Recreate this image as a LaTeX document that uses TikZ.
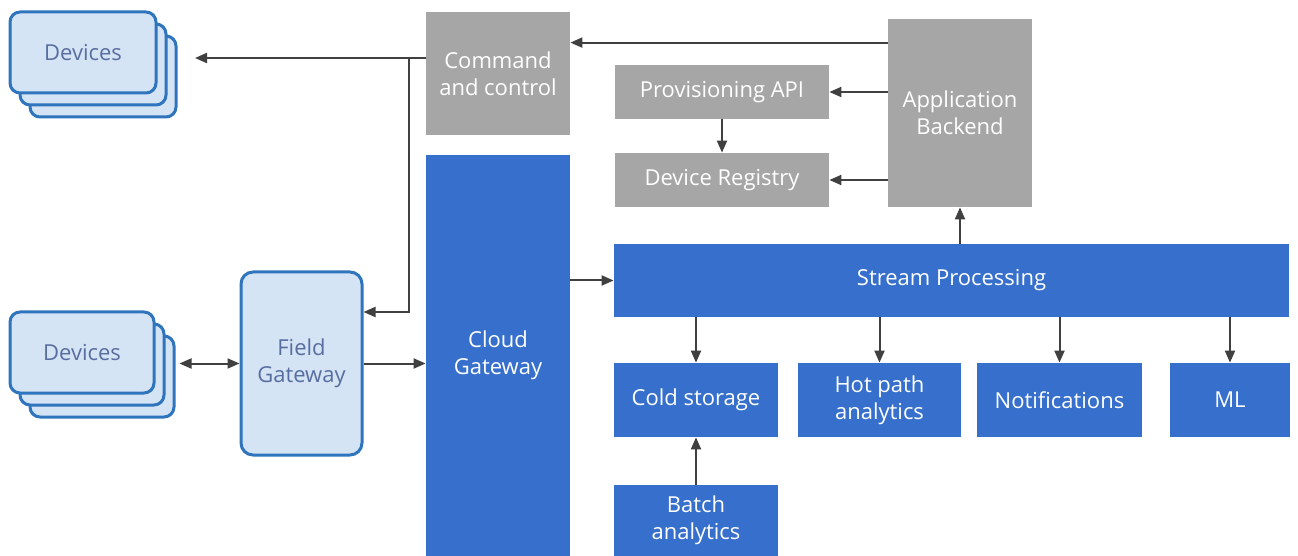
\documentclass[tikz,border=0pt]{standalone}
\usepackage{fontspec}
\setmainfont{Open Sans}
\usetikzlibrary{arrows.meta,shadows,calc}

\definecolor{azure}{RGB}{54,112,204}
\definecolor{boxgray}{RGB}{166,166,166}
\definecolor{devfill}{RGB}{212,228,244}
\definecolor{devline}{RGB}{46,117,190}
\definecolor{devtext}{RGB}{88,110,160}
\definecolor{arrowgray}{RGB}{64,64,64}

\tikzset{
	box/.style={rectangle, inner sep=0pt, align=center, text=white, font=\fontsize{11}{13.5}\selectfont},
	azurebox/.style={box, fill=azure},
	greybox/.style={box, fill=boxgray},
	device/.style={box, rounded corners=5pt, fill=devfill, draw=devline, line width=1.5pt, text=devtext},
	stack/.style={device,
		general shadow={shadow xshift=10pt, shadow yshift=-12pt, fill=devfill, draw=devline, line width=1.5pt},
		general shadow={shadow xshift=5pt, shadow yshift=-6pt, fill=devfill, draw=devline, line width=1.5pt}},
	flow/.style={draw=arrowgray, line width=1pt, -{Triangle[length=6pt,width=5pt]}},
	flowboth/.style={flow, {Triangle[length=6pt,width=5pt]}-{Triangle[length=6pt,width=5pt]}},
}

\begin{document}
\begin{tikzpicture}[x=0.5pt, y=-0.5pt]
		\fill[white] (0,0) rectangle (1298,556);
		\useasboundingbox (0,0) rectangle (1298,556);

		% Define nodes
		\node[stack, minimum width=73pt, minimum height=40.5pt] (DevA) at (83,52.5) {Devices};
		\node[stack, minimum width=72pt, minimum height=40.5pt] (DevB) at (82,352.5) {Devices};
		\node[device, rounded corners=6pt, minimum width=60.5pt, minimum height=91.5pt] (FG) at (301.5,363.5) {Field\\Gateway};
		\node[greybox, minimum width=72pt, minimum height=61.5pt] (CC) at (498,73.5) {Command\\and control};
		\node[azurebox, minimum width=72pt, minimum height=200.5pt] (CG) at (498,355.5) {Cloud\\Gateway};
		\node[greybox, minimum width=107pt, minimum height=27pt] (PA) at (722,92) {Provisioning API};
		\node[greybox, minimum width=107pt, minimum height=27pt] (DR) at (722,180) {Device Registry};
		\node[greybox, minimum width=72pt, minimum height=94pt] (AB) at (960,113) {Application\\Backend};
		\node[azurebox, minimum width=337.5pt, minimum height=36.5pt] (SP) at (951.5,280.5) {Stream Processing};
		\node[azurebox, minimum width=82pt, minimum height=37pt] (CS) at (696,400) {Cold storage};
		\node[azurebox, minimum width=81.5pt, minimum height=37pt] (HP) at (879.5,400) {Hot path\\analytics};
		\node[azurebox, minimum width=82.5pt, minimum height=37pt] (NT) at (1059.5,400) {Notifications};
		\node[azurebox, minimum width=60pt, minimum height=37pt] (ML) at (1230,400) {ML};
		\node[azurebox, minimum width=82pt, minimum height=35.5pt] (BA) at (696,520.5) {Batch\\analytics};

		\coordinate (J1) at (409,58);
		\coordinate (J2) at (409,312);
		\coordinate (DevTip) at (195,58);
		\coordinate (ABcmd) at ($(AB.north west)+(0,24)$);

		% Connect the nodes
		\draw[flow] (CC.west |- J1) -- (DevTip);
		\draw[flow] (J1) -- (J2) -- (FG.east |- J2);
		\draw[flowboth] ($(DevB.east |- FG.west)+(24,0)$) -- (FG.west);
		\draw[flow] (FG.east) -- (CG.west |- FG.east);
		\draw[flow] (CG.east |- SP.west) -- (SP.west);
		\draw[flow] (ABcmd) -- (ABcmd -| CC.east);
		\draw[flow] (AB.west |- PA.east) -- (PA.east);
		\draw[flow] (AB.west |- DR.east) -- (DR.east);
		\draw[flow] (PA) -- (DR);
		\draw[flow] (SP.north -| AB.south) -- (AB.south);
		\foreach \n in {CS,HP,NT,ML}
			\draw[flow] (SP.south -| \n.north) -- (\n.north);
		\draw[flow] (BA) -- (CS);
	\end{tikzpicture}
\end{document}
